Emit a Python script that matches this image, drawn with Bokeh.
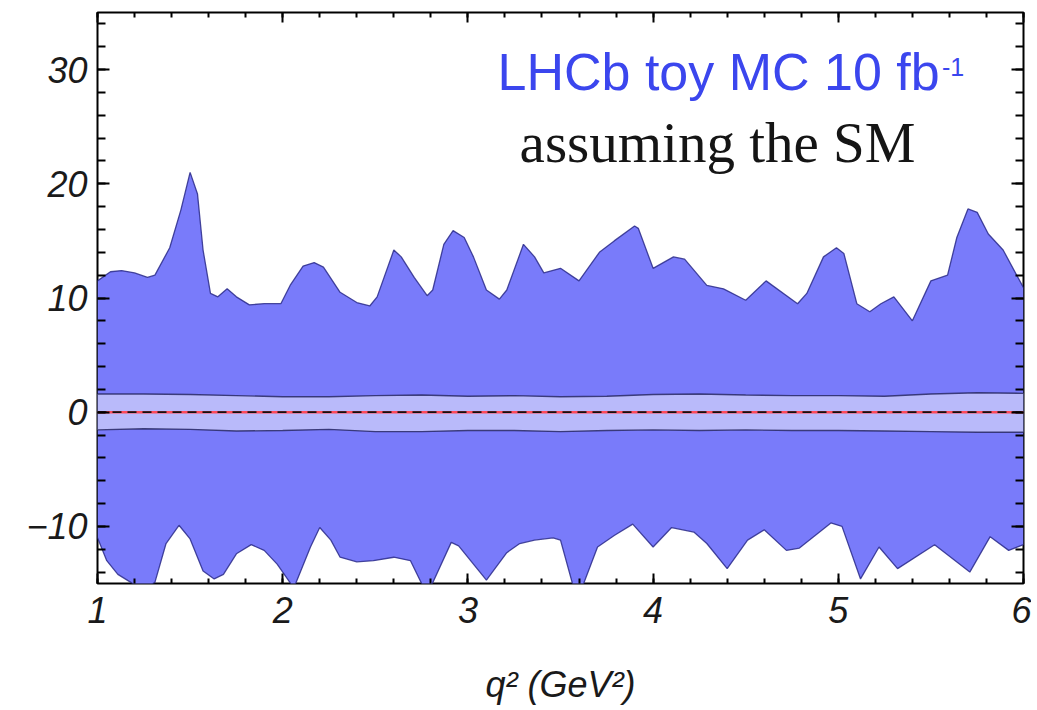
from bokeh.plotting import figure
from bokeh.models import Range1d, FixedTicker, LinearAxis, Label, CustomJSTickFormatter
from bokeh.embed import file_html
from bokeh.resources import INLINE

# ---- data ----
x_upper = [1.0, 1.07, 1.13, 1.20, 1.27, 1.31, 1.39, 1.45, 1.50, 1.54, 1.57, 1.61, 1.65, 1.70, 1.75,
           1.82, 1.90, 1.99, 2.04, 2.11, 2.17, 2.22, 2.31, 2.40, 2.47, 2.51, 2.60, 2.64, 2.71, 2.78,
           2.81, 2.87, 2.92, 2.98, 3.03, 3.10, 3.17, 3.21, 3.30, 3.36, 3.41, 3.50, 3.60, 3.71, 3.79,
           3.90, 3.92, 4.00, 4.11, 4.17, 4.29, 4.38, 4.50, 4.61, 4.78, 4.83, 4.92, 4.99, 5.03, 5.10,
           5.17, 5.23, 5.30, 5.40, 5.50, 5.59, 5.64, 5.70, 5.75, 5.81, 5.89, 6.0]
y_upper = [11.5, 12.3, 12.4, 12.2, 11.8, 12.0, 14.4, 17.7, 21.0, 19.1, 14.2, 10.4, 10.1, 10.8, 10.1,
           9.4, 9.5, 9.5, 11.1, 12.8, 13.1, 12.7, 10.5, 9.6, 9.3, 10.1, 14.2, 13.6, 11.8, 10.2,
           10.7, 14.7, 15.9, 15.3, 13.6, 10.7, 9.9, 10.7, 14.7, 13.6, 12.2, 12.6, 11.5, 14.0, 15.0,
           16.3, 16.1, 12.6, 13.6, 13.4, 11.1, 10.8, 9.8, 11.5, 9.5, 10.4, 13.6, 14.4, 13.9, 9.5,
           8.8, 9.5, 10.1, 8.0, 11.5, 12.0, 15.3, 17.8, 17.5, 15.6, 14.2, 10.9]

x_lower = [1.0, 1.05, 1.11, 1.18, 1.24, 1.31, 1.37, 1.44, 1.50, 1.57, 1.63, 1.68, 1.75, 1.83, 1.90,
           1.97, 2.06, 2.15, 2.20, 2.26, 2.31, 2.40, 2.49, 2.60, 2.69, 2.78, 2.91, 2.95, 3.10, 3.21,
           3.28, 3.36, 3.46, 3.50, 3.59, 3.70, 3.79, 3.89, 4.00, 4.10, 4.22, 4.29, 4.40, 4.51, 4.60,
           4.72, 4.79, 4.96, 5.02, 5.12, 5.22, 5.32, 5.52, 5.71, 5.82, 5.92, 6.0]
y_lower = [-11.0, -13.0, -14.2, -14.9, -15.6, -14.9, -11.5, -9.9, -11.1, -13.9, -14.6, -14.2, -12.4, -11.6, -12.1,
           -13.3, -15.4, -11.8, -10.1, -11.2, -12.7, -13.1, -13.0, -12.7, -13.0, -16.0, -11.4, -11.7, -14.7, -12.3,
           -11.5, -11.2, -11.0, -11.2, -16.5, -11.8, -10.8, -9.8, -11.8, -10.1, -10.5, -11.5, -13.7, -11.2, -10.3,
           -12.1, -11.9, -9.7, -10.0, -14.6, -11.8, -13.7, -11.6, -14.0, -10.9, -12.1, -11.6]

x_inner = [1.0, 1.25, 1.5, 1.75, 2.0, 2.25, 2.5, 2.75, 3.0, 3.25, 3.5, 3.75, 4.0, 4.25, 4.5,
           4.75, 5.0, 5.25, 5.5, 5.75, 6.0]
inner_hi = [1.6, 1.6, 1.55, 1.45, 1.35, 1.35, 1.45, 1.5, 1.4, 1.45, 1.35, 1.4, 1.55, 1.6, 1.5,
            1.45, 1.45, 1.4, 1.6, 1.7, 1.65]
inner_lo = [-1.55, -1.45, -1.5, -1.65, -1.6, -1.5, -1.7, -1.7, -1.6, -1.6, -1.7, -1.6, -1.55, -1.6, -1.55,
            -1.6, -1.6, -1.65, -1.7, -1.75, -1.75]

x_sm = [1.0, 6.0]
y_sm = [0.0, 0.0]

x_major = [1, 2, 3, 4, 5, 6]
x_minor = [1 + 0.2 * i for i in range(26)]
y_major = [-10, 0, 10, 20, 30]
y_minor = list(range(-14, 36, 2))
y_labels = {-10: "\u221210"}

title_text = "LHCb toy MC 10 fb"
title_sup = "-1"
subtitle_text = "assuming the SM"
x_label = "q\u00b2 (GeV\u00b2)"

# ---- figure ----
p = figure(frame_width=926, frame_height=571,
           x_range=Range1d(1, 6), y_range=Range1d(-15, 35),
           output_backend="svg", toolbar_location=None,
           min_border_left=97, min_border_top=12, min_border_right=8, min_border_bottom=112,
           background_fill_color="white", border_fill_color="white")
p.xgrid.grid_line_color = None
p.ygrid.grid_line_color = None
p.outline_line_color = "black"
p.outline_line_width = 2

OUTER = "#797bfa"
INNER = "#b9bafa"
EDGE = "#2a2a8a"

xs = x_upper + x_lower[::-1]
ys = y_upper + y_lower[::-1]
p.patch(xs, ys, fill_color=OUTER, line_color=None)
p.line(x_upper, y_upper, line_color=EDGE, line_width=1.3, line_alpha=0.85)
p.line(x_lower, y_lower, line_color=EDGE, line_width=1.3, line_alpha=0.85)

p.varea(x=x_inner, y1=inner_lo, y2=inner_hi, fill_color=INNER)
p.line(x_inner, inner_hi, line_color="#22225a", line_width=1.4, line_alpha=0.8)
p.line(x_inner, inner_lo, line_color="#22225a", line_width=1.4, line_alpha=0.8)

p.line(x_sm, y_sm, line_color="#ff4a5a", line_width=2.6)
p.line(x_sm, y_sm, line_color="#111111", line_width=1.7, line_dash="9 6")

xt = FixedTicker(ticks=x_major, minor_ticks=x_minor)
yt = FixedTicker(ticks=y_major, minor_ticks=y_minor)


def style(ax, major_in, minor_in):
    ax.axis_line_color = None
    ax.major_tick_in = major_in
    ax.major_tick_out = 0
    ax.minor_tick_in = minor_in
    ax.minor_tick_out = 0
    ax.major_tick_line_color = "black"
    ax.minor_tick_line_color = "black"
    ax.major_tick_line_width = 2
    ax.minor_tick_line_width = 2
    ax.major_label_text_font = "Liberation Sans"
    ax.major_label_text_font_style = "italic"
    ax.major_label_text_font_size = "36px"
    ax.major_label_text_color = "#1a1a1a"


xa = p.xaxis[0]
ya = p.yaxis[0]
xa.ticker = xt
ya.ticker = yt
style(xa, 10, 5)
style(ya, 12, 8)
xa.major_label_standoff = 13
ya.major_label_standoff = 10
ya.major_label_overrides = y_labels
xa.axis_label = x_label
xa.axis_label_text_font = "Liberation Sans"
xa.axis_label_text_font_style = "italic"
xa.axis_label_text_font_size = "36px"
xa.axis_label_text_color = "#1a1a1a"
xa.axis_label_standoff = 38

top = LinearAxis(ticker=xt, formatter=CustomJSTickFormatter(code="return ''"))
style(top, 10, 5)
top.major_label_standoff = 0
right = LinearAxis(ticker=yt, formatter=CustomJSTickFormatter(code="return ''"))
style(right, 12, 8)
right.major_label_standoff = 0
p.add_layout(top, "above")
p.add_layout(right, "right")

p.add_layout(Label(x=3.16, y=29.75, text=title_text, text_font="Liberation Sans",
                   text_font_size="52px", text_color="#3b46ee", text_baseline="alphabetic",
                   text_align="left"))
p.add_layout(Label(x=5.56, y=30.2, text=title_sup, text_font="Liberation Sans",
                   text_font_size="25px", text_color="#3b46ee", text_baseline="alphabetic",
                   text_align="left"))
p.add_layout(Label(x=4.348, y=23.6, text=subtitle_text, text_font="Liberation Serif",
                   text_font_size="57px", text_color="#151515", text_baseline="alphabetic",
                   text_align="center"))

open("out.html", "w").write(file_html(p, INLINE))
